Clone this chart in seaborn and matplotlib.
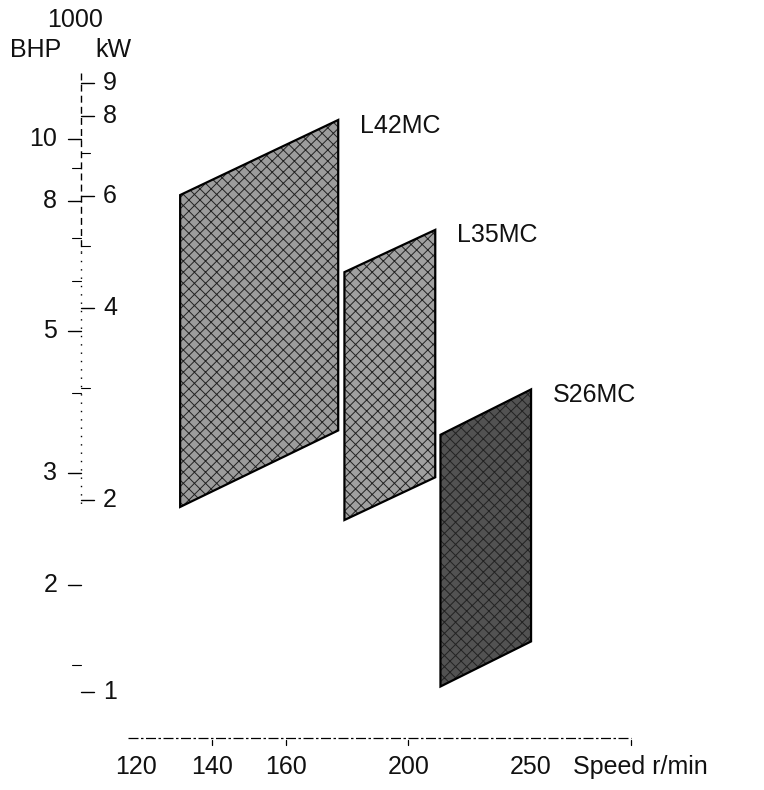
"""MC engine layout areas: power vs. speed on log-log scales."""

import matplotlib

matplotlib.use("Agg")

import matplotlib.pyplot as plt
import seaborn as sns

# --- data ---
engines = ["L42MC", "L35MC", "S26MC"]
speed_low = [132, 178, 212]          # r/min, left edge of layout area
speed_high = [176, 210, 250]         # r/min, right edge
power_top_low = [6010, 4550, 2530]   # kW, top-left corner
power_top_high = [7880, 5300, 2980]  # kW, top-right corner
power_bot_high = [2570, 2170, 1200]  # kW, bottom-right corner
power_bot_low = [1950, 1860, 1020]   # kW, bottom-left corner
fill_colors = ["#9c9c9c", "#a0a0a0", "#525252"]

kw_ticks = [1, 2, 4, 6, 8, 9]        # 1000 kW, labelled
kw_minor = [3, 5, 7]
bhp_ticks = [2, 3, 5, 8, 10]         # 1000 BHP, labelled
bhp_minor = [1.5, 4, 6, 7, 9]
speed_labels = [120, 140, 160, 200, 250]
speed_tick_marks = [140, 160, 200, 300]
KW_TO_BHP = 1.36

sns.set_theme(style="white")
plt.rcParams["font.family"] = ["Liberation Sans", "DejaVu Sans"]
plt.rcParams["text.color"] = "#111111"
plt.rcParams["hatch.linewidth"] = 0.7
FS = 18

fig = plt.figure(figsize=(7.64, 7.90), dpi=100)
ax = fig.add_axes([0, 0, 1, 1])
ax.set_xscale("log")
ax.set_yscale("log")
ax.set_xlim(95.1, 382)
ax.set_ylim(702, 12150)
ax.axis("off")

# --- layout areas ---
for i, name in enumerate(engines):
    xs = [speed_low[i], speed_high[i], speed_high[i], speed_low[i]]
    ys = [power_top_low[i], power_top_high[i], power_bot_high[i], power_bot_low[i]]
    ax.fill(xs, ys, facecolor=fill_colors[i], edgecolor="#222222", hatch="xxx",
            linewidth=0, zorder=2)
    ax.fill(xs, ys, facecolor="none", edgecolor="black", linewidth=1.6, zorder=3)
    ax.annotate(name, (speed_high[i], power_top_high[i]), xytext=(16, -4),
                textcoords="offset points", ha="left", va="center", fontsize=FS)

# --- power axis (kW right, BHP left) ---
ytr = ax.get_yaxis_transform()
x_axis = 0.106
ax.plot([x_axis, x_axis], [9340, 4900], transform=ytr, color="black", lw=1.0,
        linestyle=(0, (5, 3)))
ax.plot([x_axis, x_axis], [4900, 1950], transform=ytr, color="black", lw=1.0,
        linestyle=(0, (1, 5)))
for v in kw_ticks:
    ax.plot([x_axis, x_axis + 0.017], [v * 1000, v * 1000], transform=ytr, color="black", lw=1.0)
    ax.text(x_axis + 0.029, v * 1000, str(v), transform=ytr, ha="left", va="center", fontsize=FS)
for v in kw_minor:
    ax.plot([x_axis, x_axis + 0.012], [v * 1000, v * 1000], transform=ytr, color="black", lw=0.8)
for v in bhp_ticks:
    y = v * 1000 / KW_TO_BHP
    ax.plot([x_axis - 0.017, x_axis], [y, y], transform=ytr, color="black", lw=1.0)
    ax.text(x_axis - 0.031, y, str(v), transform=ytr, ha="right", va="center", fontsize=FS)
for v in bhp_minor:
    y = v * 1000 / KW_TO_BHP
    ax.plot([x_axis - 0.012, x_axis], [y, y], transform=ytr, color="black", lw=0.8)

fig.text(75 / 764, 1 - 20 / 790, "1000", ha="center", va="center", fontsize=FS)
fig.text(36 / 764, 1 - 50 / 790, "BHP", ha="center", va="center", fontsize=FS)
fig.text(113 / 764, 1 - 50 / 790, "kW", ha="center", va="center", fontsize=FS)

# --- speed axis ---
xtr = ax.get_xaxis_transform()
y_axis = 0.066
ax.plot([120, 300], [y_axis, y_axis], transform=xtr, color="black", lw=0.9,
        linestyle=(0, (8, 2, 2, 2)))
for v in speed_tick_marks:
    ax.plot([v, v], [y_axis - 0.003, y_axis - 0.009], transform=xtr, color="black", lw=0.9)
for v in speed_labels:
    nudge = 6 if v == 120 else 0
    ax.annotate(str(v), (v, 0.029), xycoords=xtr, xytext=(nudge, 0),
                textcoords="offset points", ha="center", va="center", fontsize=FS)
ax.text(270, 0.029, "Speed r/min", transform=xtr, ha="left", va="center", fontsize=FS)

fig.savefig("out.png", dpi=100)
plt.close(fig)
